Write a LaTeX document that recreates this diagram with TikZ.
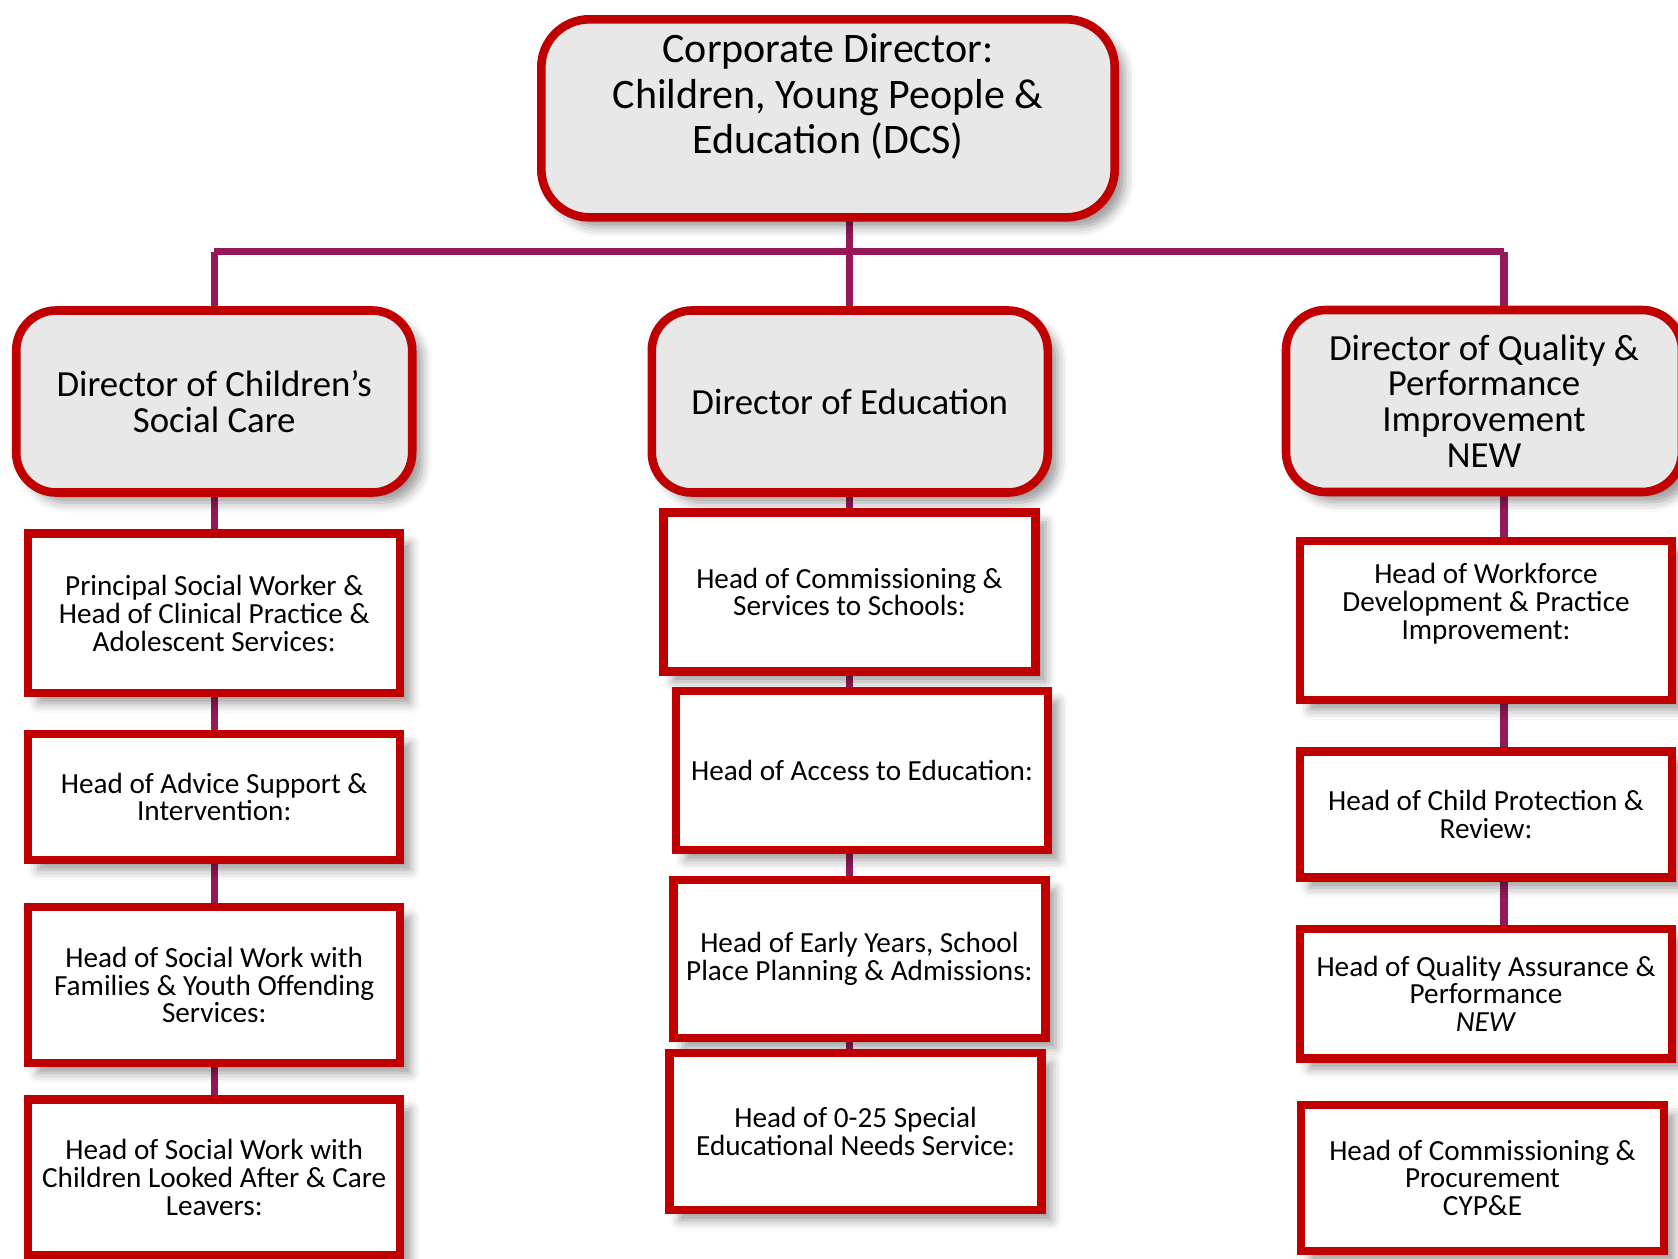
\documentclass[tikz,border=0pt]{standalone}
\usepackage{fontspec}
\setmainfont{Carlito}
\usetikzlibrary{shadows.blur,backgrounds}
\definecolor{boxred}{HTML}{C00000}
\definecolor{linkpurple}{HTML}{95195A}
\definecolor{headgray}{HTML}{E8E8E8}

\begin{document}
\begin{tikzpicture}[x=.5pt,y=-.5pt,
  boxshadow/.style={blur shadow={shadow xshift=5pt,shadow yshift=-5pt,
                    shadow blur radius=5pt,shadow opacity=40}},
  director/.style={draw=boxred,line width=4.3pt,fill=headgray,
                   rounded corners=20pt,align=center,inner sep=0pt,
                   minimum width=198pt,minimum height=91pt,
                   font=\fontsize{18.4}{17.8}\selectfont,boxshadow},
  head/.style={draw=boxred,line width=4.2pt,fill=white,align=center,
               inner sep=0pt,minimum width=186pt,
               font=\fontsize{14.6}{13.9}\selectfont,boxshadow},
  link/.style={draw=linkpurple,line width=3.6pt}]
\useasboundingbox (0,0) rectangle (1678,1259);
\clip (0,0) rectangle (1678,1259);
% top
\node[director,rounded corners=24pt,minimum width=286.7pt,minimum height=99pt,
      font=\fontsize{21}{22.7}\selectfont] (cd) at (828,118.3)
      {Corporate Director:\\Children, Young People \&\\Education (DCS)\\[2pt]\mbox{}};
\coordinate (bus) at (850,251.5);
% directors
\node[director] (sc) at (214.2,401.5) {Director of Children’s\\Social Care};
\node[director] (ed) at (849.8,401.5) {Director of Education};
\node[director] (qd) at (1484,401) 
      {Director of Quality \&\\Performance\\Improvement\\NEW};
% social care
\node[head,minimum height=79.75pt] (l1) at (214.2,613.3)
      {Principal Social Worker \&\\Head of Clinical Practice \&\\Adolescent Services:};
\node[head,minimum height=63pt] (l2) at (214.2,797)
      {Head of Advice Support \&\\Intervention:};
\node[head,minimum height=78pt] (l3) at (214.2,985)
      {Head of Social Work with\\Families \& Youth Offending\\Services:};
\node[head,minimum height=78pt] (l4) at (214.2,1177.5)
      {Head of Social Work with\\Children Looked After \& Care\\Leavers:};
% education
\node[head,minimum height=79.5pt] (m1) at (849.5,592)
      {Head of Commissioning \&\\Services to Schools:};
\node[head,minimum height=79.5pt] (m2) at (862,770.5)
      {Head of Access to Education:};
\node[head,minimum height=79pt] (m3) at (859.4,958.9)
      {Head of Early Years, School\\Place Planning \& Admissions:};
\node[head,minimum height=78.5pt] (m4) at (855.6,1131.7)
      {Head of 0-25 Special\\Educational Needs Service:};
% quality
\node[head,minimum height=79.5pt] (r1) at (1486,620.3)
      {Head of Workforce\\Development \& Practice\\Improvement:\\[5pt]\mbox{}};
\node[head,minimum height=63pt] (r2) at (1486,814.5)
      {Head of Child Protection \&\\Review:};
\node[head,minimum height=64.6pt] (r3) at (1486,993.8)
      {Head of Quality Assurance \&\\Performance\\\textit{NEW}};
\node[head,minimum width=181.6pt,minimum height=73pt] (r4) at (1482.5,1177.8)
      {Head of Commissioning \&\\Procurement\\CYP\&E};
% links
\begin{scope}[on background layer]
\draw[link] (sc |- bus) -- ([xshift=10pt]qd.center |- bus);
\draw[link] (ed) -- (ed |- cd);
\draw[link] (sc |- bus) -- (sc |- l4);
\draw[link] (ed) -- (ed |- m4);
\draw[link] ([xshift=10pt]qd.center |- bus) -- ([xshift=10pt]qd.center |- r3);
\end{scope}
\end{tikzpicture}
\end{document}
